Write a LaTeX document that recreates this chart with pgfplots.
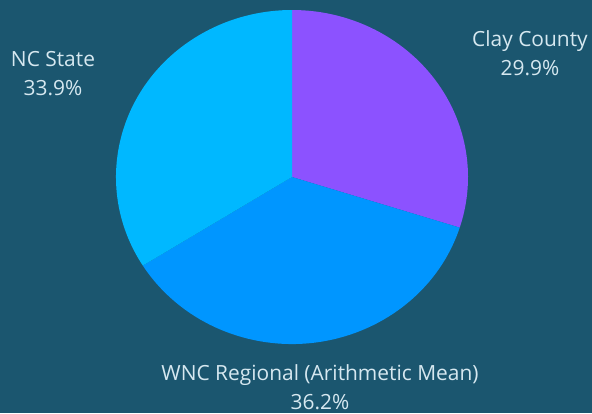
\documentclass[border=0pt]{standalone}
\usepackage{fontspec}
\setmainfont{Open Sans}
\usepackage{pgfplots}
\usepackage{pgfplotstable}
\pgfplotsset{compat=1.18}
\definecolor{bg}{RGB}{27,86,111}
\definecolor{clay}{RGB}{140,82,255}
\definecolor{wnc}{RGB}{0,150,255}
\definecolor{ncs}{RGB}{0,184,255}
\definecolor{txt}{RGB}{214,232,240}

\pgfplotstableread[col sep=comma]{
label,value,color
Clay County,29.9,clay
WNC Regional,36.2,wnc
NC State,33.9,ncs
}\piedata

\begin{document}
\begin{tikzpicture}
\begin{axis}[
    x=176bp, y=167bp,
    xmin=-1.6591, xmax=1.7045,
    ymin=-1.4132, ymax=1.0599,
    hide axis, clip=false,
]
% background
\fill[bg] (axis cs:-1.6591,-1.4132) rectangle (axis cs:1.7045,1.0599);

% slices, clockwise from the top
\pgfplotstablegetrowsof{\piedata}
\pgfmathtruncatemacro\nrows{\pgfplotsretval-1}
\def\cum{0}
\pgfplotsforeachungrouped \i in {0,...,\nrows}{
    \pgfplotstablegetelem{\i}{value}\of\piedata \let\v\pgfplotsretval
    \pgfplotstablegetelem{\i}{color}\of\piedata \let\c\pgfplotsretval
    \pgfmathsetmacro\a{90-3.6*\cum}
    \pgfmathsetmacro\b{\a-3.6*\v}
    \edef\slice{\noexpand\fill[\c] (axis cs:0,0) -- (axis cs:{cos(\a)},{sin(\a)})
        arc[start angle=\a, end angle=\b, x radius=176bp, y radius=167bp] -- cycle;}
    \slice
    \pgfmathsetmacro\cum{\cum+\v}
}

% labels
\tikzset{lbl/.style={align=center, text=txt, font=\fontsize{21}{29}\selectfont}}
\node[lbl] at (axis cs:1.352,0.742) {Clay County\\29.9\%};
\node[lbl] at (axis cs:-1.358,0.617) {NC State\\33.9\%};
\node[lbl] at (axis cs:0.159,-1.257) {WNC Regional (Arithmetic Mean)\\36.2\%};
\end{axis}
\end{tikzpicture}
\end{document}
